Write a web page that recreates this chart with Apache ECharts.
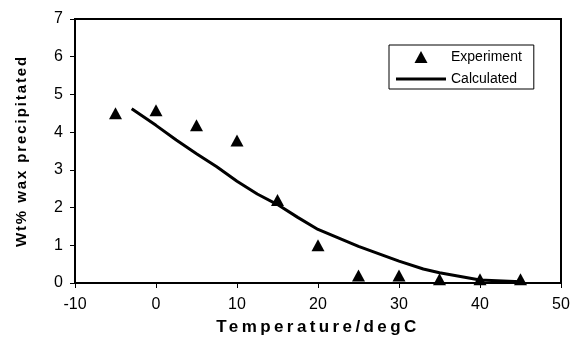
<!DOCTYPE html>
<html>
<head>
<meta charset="utf-8">
<script src="https://cdn.jsdelivr.net/npm/echarts@6/dist/echarts.min.js"></script>
<style>
  html, body { margin: 0; padding: 0; background: #fff; }
  #chart { width: 574px; height: 345px; }
</style>
</head>
<body>
<div id="chart"></div>
<script>
// Measured wax precipitation (wt%) at each temperature (degC)
const expTemps = [-5, 0, 5, 10, 15, 20, 25, 30, 35, 40, 45];
const expWax = [4.5, 4.58, 4.18, 3.78, 2.2, 1.0, 0.2, 0.2, 0.1, 0.1, 0.1];

// Model prediction
const calcTemps = [-3, 0, 2.5, 5, 7.5, 10, 12.5, 15, 17.5, 20, 25, 30, 33, 35, 40, 45];
const calcWax = [4.62, 4.18, 3.79, 3.43, 3.08, 2.7, 2.36, 2.08, 1.74, 1.42, 0.97, 0.58, 0.37, 0.27, 0.08, 0.03];

// Axis tick values
const xTickValues = [-10, 0, 10, 20, 30, 40, 50];
const yTickValues = [0, 1, 2, 3, 4, 5, 6, 7];

const FONT = '"Liberation Sans", Arial, sans-serif';

// Bold axis titles are drawn with widened letter spacing
const spacingBySize = { 17: '3.4px', 15: '1.9px' };
const nativeFillText = CanvasRenderingContext2D.prototype.fillText;
CanvasRenderingContext2D.prototype.fillText = function (text, x, y, maxWidth) {
  const m = /(bold|700)\s+(\d+)px/.exec(this.font);
  if ('letterSpacing' in this) {
    this.letterSpacing = (m && spacingBySize[m[2]]) || '0px';
  }
  return maxWidth === undefined
    ? nativeFillText.call(this, text, x, y)
    : nativeFillText.call(this, text, x, y, maxWidth);
};

// Legend glyphs: a small solid triangle and a short thick bar
const TRIANGLE_ICON = 'path://M6.5,0L13,12L0,12Z';
const LINE_ICON = 'path://M0,0L50,0L50,3L0,3Z';

const pairs = (xs, ys) => xs.map((x, i) => [x, ys[i]]);

const chart = echarts.init(document.getElementById('chart'), null, { renderer: 'canvas' });

chart.setOption({
  animation: false,
  backgroundColor: '#fff',
  grid: {
    left: 75, right: 13, top: 19, bottom: 62,
    show: true, borderColor: '#000', borderWidth: 2
  },
  legend: {
    orient: 'vertical',
    left: 389, top: 45,
    padding: [5, 12, 3, 7],
    borderColor: '#000', borderWidth: 1,
    itemWidth: 50, itemHeight: 12, itemGap: 8,
    symbolKeepAspect: true,
    textStyle: { fontFamily: FONT, fontSize: 14, color: '#000' },
    data: [
      { name: 'Experiment', icon: TRIANGLE_ICON, symbolKeepAspect: true, itemStyle: { color: '#000', borderWidth: 0, opacity: 1 } },
      { name: 'Calculated', icon: LINE_ICON, symbolKeepAspect: true, itemStyle: { color: '#000', borderWidth: 0, opacity: 1 } }
    ]
  },
  xAxis: {
    type: 'value',
    min: xTickValues[0],
    max: xTickValues[xTickValues.length - 1],
    interval: xTickValues[1] - xTickValues[0],
    name: 'Temperature/degC',
    nameLocation: 'middle',
    nameGap: 36,
    nameTextStyle: { fontFamily: FONT, fontSize: 17, fontWeight: 'bold', color: '#000' },
    axisLine: { onZero: false, lineStyle: { color: '#000', width: 2 } },
    axisTick: { show: true, length: 5, lineStyle: { color: '#000', width: 1 } },
    axisLabel: { margin: 14, fontFamily: FONT, fontSize: 16, color: '#000' },
    splitLine: { show: false }
  },
  yAxis: {
    type: 'value',
    min: yTickValues[0],
    max: yTickValues[yTickValues.length - 1],
    interval: yTickValues[1] - yTickValues[0],
    name: 'Wt% wax precipitated',
    nameLocation: 'middle',
    nameRotate: 90,
    nameGap: 46,
    nameTextStyle: { fontFamily: FONT, fontSize: 15, fontWeight: 'bold', color: '#000' },
    axisLine: { onZero: false, lineStyle: { color: '#000', width: 2 } },
    axisTick: { show: true, length: 5, lineStyle: { color: '#000', width: 1 } },
    axisLabel: { margin: 12, fontFamily: FONT, fontSize: 16, color: '#000' },
    splitLine: { show: false }
  },
  series: [
    {
      name: 'Experiment',
      type: 'scatter',
      symbol: 'triangle',
      symbolSize: [13, 12],
      clip: false,
      itemStyle: { color: '#000', opacity: 1 },
      data: pairs(expTemps, expWax)
    },
    {
      name: 'Calculated',
      type: 'line',
      symbol: 'none',
      smooth: false,
      lineStyle: { color: '#000', width: 3 },
      itemStyle: { color: '#000' },
      data: pairs(calcTemps, calcWax)
    }
  ]
});
</script>
</body>
</html>
